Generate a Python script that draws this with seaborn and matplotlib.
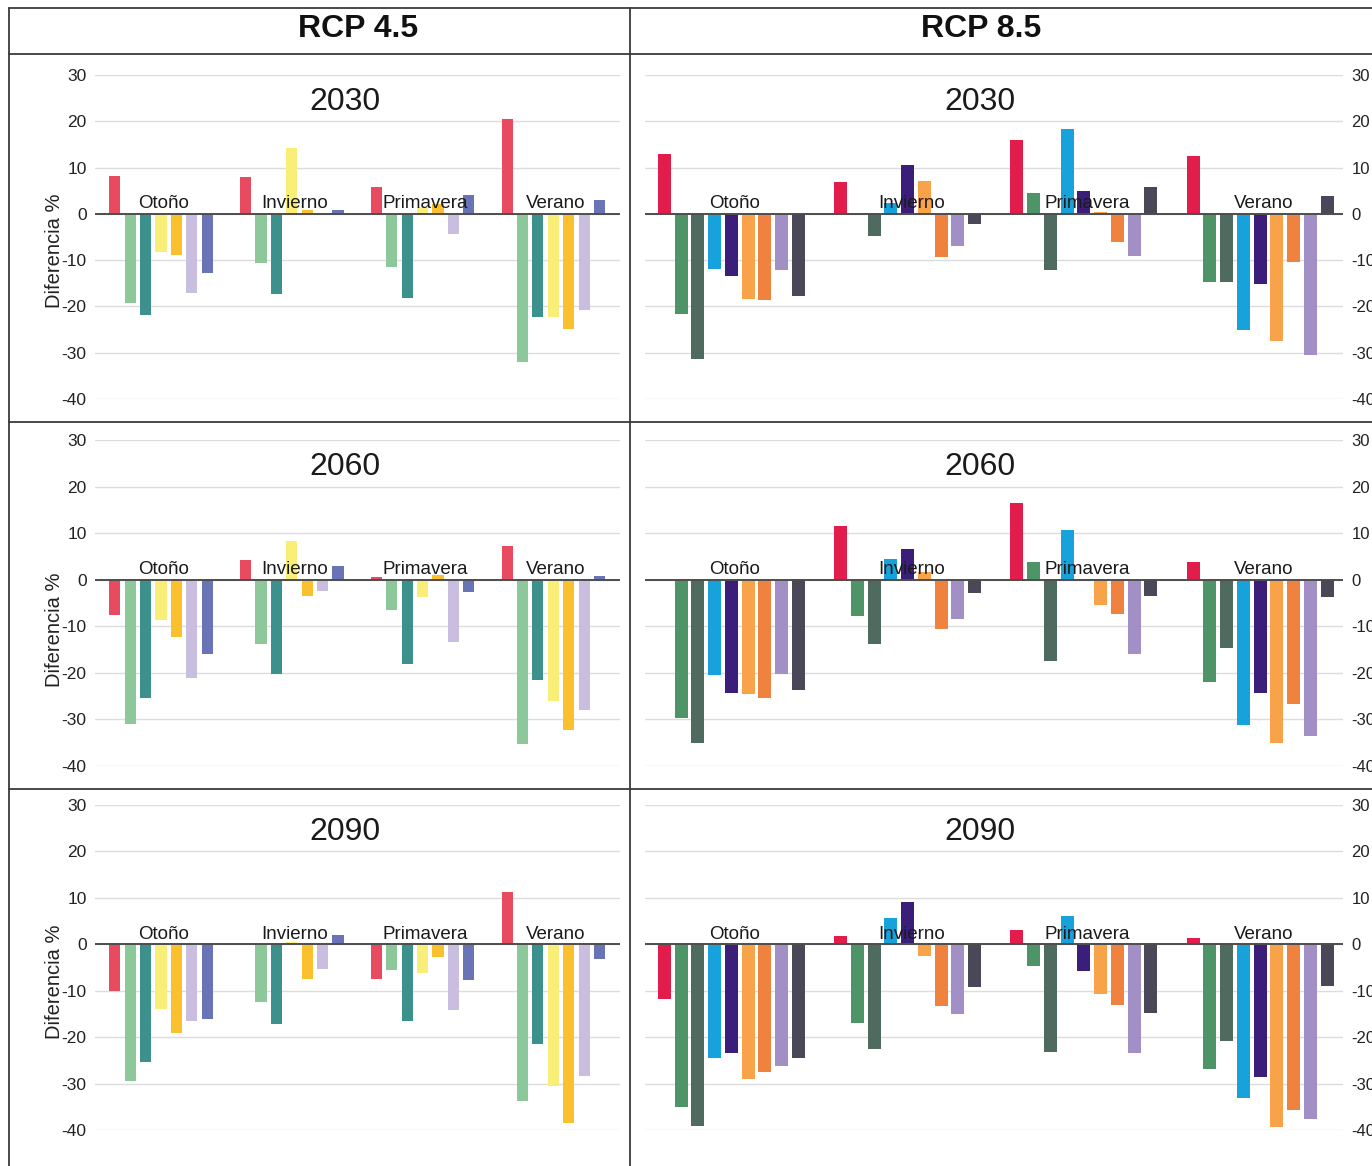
import matplotlib
matplotlib.use("Agg")
import matplotlib.pyplot as plt
from matplotlib.lines import Line2D
import pandas as pd
import seaborn as sns

# ---- data ---------------------------------------------------------------
seasons = ["Otoño", "Invierno", "Primavera", "Verano"]
scenarios = ["RCP 4.5", "RCP 8.5"]
horizons = ["2030", "2060", "2090"]

models_45 = ["M1", "M2", "M3", "M4", "M5", "M6", "M7"]
models_85 = ["N1", "N2", "N3", "N4", "N5", "N6", "N7", "N8", "N9"]

colors_45 = ["#E84A5F", "#8DC89B", "#3D918C", "#F8EE78", "#FBC02D", "#C9BEDF", "#6874B5"]
colors_85 = ["#E31D4B", "#4D9466", "#4F6A5F", "#18A2DB", "#3A1E7A",
             "#F8A24A", "#F0823F", "#A28FC6", "#4A4759"]

# one row per season, one value per model (difference, %)
rcp45_2030 = [
    [8.2, -19.2, -21.9, -8.3, -8.8, -17.0, -12.7],
    [8.0, -10.6, -17.4, 14.3, 0.9, 0.0, 0.9],
    [5.9, -11.4, -18.1, 1.4, 2.2, -4.3, 4.1],
    [20.5, -32.0, -22.3, -22.2, -24.9, -20.8, 3.0],
]
rcp45_2060 = [
    [-7.5, -30.9, -25.4, -8.6, -12.2, -21.0, -15.9],
    [4.3, -13.8, -20.3, 8.4, -3.4, -2.4, 3.0],
    [0.5, -6.4, -18.2, -3.7, 1.0, -13.3, -2.6],
    [7.3, -35.2, -21.6, -26.1, -32.2, -28.0, 0.8],
]
rcp45_2090 = [
    [-10.0, -29.5, -25.4, -14.0, -19.0, -16.5, -16.1],
    [0.0, -12.5, -17.2, 0.4, -7.5, -5.4, 2.0],
    [-7.5, -5.5, -16.5, -6.1, -2.7, -14.2, -7.7],
    [11.2, -33.8, -21.4, -30.6, -38.4, -28.4, -3.1],
]
rcp85_2030 = [
    [13.0, -21.6, -31.3, -12.0, -13.5, -18.3, -18.7, -12.2, -17.8],
    [6.9, 0.0, -4.7, 2.4, 10.6, 7.2, -9.3, -6.9, -2.1],
    [16.0, 4.6, -12.2, 18.4, 4.9, 0.5, -6.1, -9.1, 5.9],
    [12.6, -14.7, -14.7, -25.2, -15.2, -27.4, -10.5, -30.6, 3.9],
]
rcp85_2060 = [
    [0.0, -29.7, -35.0, -20.4, -24.3, -24.6, -25.4, -20.3, -23.6],
    [11.5, -7.8, -13.8, 4.5, 6.7, 1.6, -10.5, -8.4, -2.8],
    [16.4, 3.7, -17.5, 10.6, 0.0, -5.4, -7.3, -16.0, -3.6],
    [3.7, -21.9, -14.6, -31.2, -24.4, -35.0, -26.7, -33.6, -3.7],
]
rcp85_2090 = [
    [-11.8, -35.0, -39.1, -24.5, -23.5, -29.1, -27.6, -26.3, -24.5],
    [1.8, -17.0, -22.5, 5.6, 9.2, -2.5, -13.2, -15.0, -9.2],
    [3.0, -4.7, -23.2, 6.0, -5.8, -10.6, -13.0, -23.5, -14.7],
    [1.4, -26.8, -20.9, -33.2, -28.5, -39.4, -35.7, -37.7, -8.9],
]

yticks = [-40, -30, -20, -10, 0, 10, 20, 30]

# ---- style --------------------------------------------------------------
sns.set_theme(style="white")
plt.rcParams["font.family"] = ["Liberation Sans", "DejaVu Sans"]
plt.rcParams["axes.unicode_minus"] = False

W, H = 1372, 1166
fig = plt.figure(figsize=(W / 100, H / 100), dpi=100)
fig.patch.set_facecolor("white")


def px_box(x0, x1, y0, y1):
    return [x0 / W, 1 - y1 / H, (x1 - x0) / W, (y1 - y0) / H]


def long_table(values, models):
    recs = []
    for season, vals in zip(seasons, values):
        for model, v in zip(models, vals):
            recs.append((season, model, v))
    return pd.DataFrame(recs, columns=["estacion", "modelo", "diferencia"])


row_px = [(75, 399), (440, 766), (805, 1130)]
col_px = [(95, 620), (645, 1343)]
ylabel_y = [251, 630, 982]

panels = {
    (0, 0): rcp45_2030, (1, 0): rcp45_2060, (2, 0): rcp45_2090,
    (0, 1): rcp85_2030, (1, 1): rcp85_2060, (2, 1): rcp85_2090,
}

col_cfg = [
    dict(models=models_45, colors=colors_45, width=0.825, gap=0.28,
         xlim=(-0.505, 3.51), title_x=0.476),
    dict(models=models_85, colors=colors_85, width=0.855, gap=0.22,
         xlim=(-0.49, 3.47), title_x=0.480),
]

for (r, c), values in panels.items():
    cfg = col_cfg[c]
    x0, x1 = col_px[c]
    y0, y1 = row_px[r]
    ax = fig.add_axes(px_box(x0, x1, y0, y1))
    df = long_table(values, cfg["models"])
    sns.barplot(
        data=df, x="estacion", y="diferencia", hue="modelo",
        order=seasons, hue_order=cfg["models"],
        palette=dict(zip(cfg["models"], cfg["colors"])),
        width=cfg["width"], gap=cfg["gap"], saturation=1,
        errorbar=None, legend=False, linewidth=0, ax=ax, zorder=2,
    )
    ax.set_xlim(*cfg["xlim"])
    ax.set_ylim(-40, 30)
    ax.set_yticks(yticks)
    ax.set_xticks([])
    ax.set_xlabel("")
    ax.set_ylabel("")
    ax.grid(axis="y", color="#dcdcdc", linewidth=1.0, zorder=0)
    ax.set_axisbelow(True)
    ax.axhline(0, color="#4d4d4d", linewidth=1.4, zorder=3)
    for sp in ax.spines.values():
        sp.set_visible(False)
    ax.set_facecolor("white")

    if c == 0:
        ax.tick_params(axis="y", length=0, pad=6, labelsize=12.5, labelcolor="#222222")
        ax.text((54 - x0) / (x1 - x0), (y1 - ylabel_y[r]) / (y1 - y0), "Diferencia %",
                transform=ax.transAxes, rotation=90, ha="center", va="center",
                fontsize=14.5, color="#222222")
    else:
        ax.yaxis.tick_right()
        ax.tick_params(axis="y", length=0, pad=6, labelsize=12, labelcolor="#222222",
                       labelright=True, labelleft=False)

    ax.text(cfg["title_x"], 0.917, horizons[r], transform=ax.transAxes,
            ha="center", va="center", fontsize=23, color="#1a1a1a")

    for i, season in enumerate(seasons):
        ax.text(i + 0.02, 1.2, season, ha="center", va="baseline",
                fontsize=13.5, color="#1a1a1a", zorder=4)

# ---- table frame and column headers --------------------------------------
line_kw = dict(color="#3a3a3a", linewidth=1.3, transform=fig.transFigure)


def hline(y, xa=9, xb=W):
    fig.add_artist(Line2D([xa / W, xb / W], [1 - y / H, 1 - y / H], **line_kw))


def vline(x, ya=8, yb=H):
    fig.add_artist(Line2D([x / W, x / W], [1 - ya / H, 1 - yb / H], **line_kw))


hline(8)
hline(54)
hline(422)
hline(789)
vline(9)
vline(630)

fig.text(358 / W, 1 - 29 / H, scenarios[0], ha="center", va="center",
         fontsize=23, fontweight="bold", color="#111111")
fig.text(981 / W, 1 - 29 / H, scenarios[1], ha="center", va="center",
         fontsize=23, fontweight="bold", color="#111111")

fig.savefig("out.png", dpi=100, facecolor="white")
